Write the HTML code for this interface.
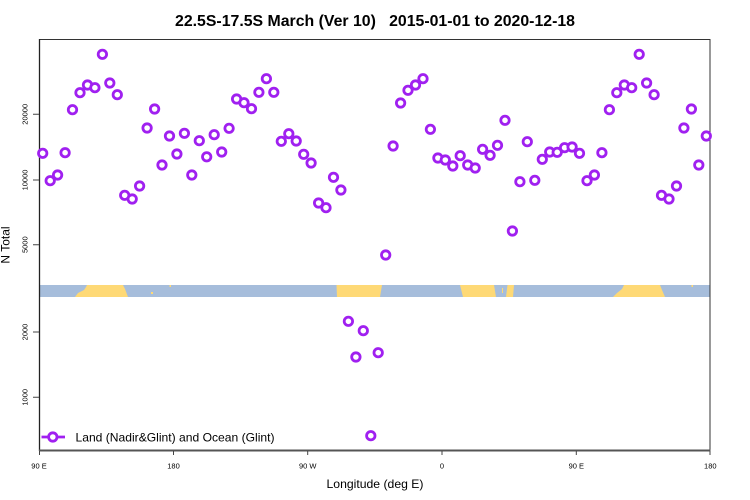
<!DOCTYPE html>
<html>
<head>
<meta charset="utf-8">
<style>
html,body{margin:0;padding:0;background:#fff;}
svg{display:block;}
text{font-family:"Liberation Sans",sans-serif;fill:#000;}
</style>
</head>
<body>
<svg width="750" height="500" viewBox="0 0 750 500" xmlns="http://www.w3.org/2000/svg">
<defs>
<marker id="m" markerUnits="userSpaceOnUse" markerWidth="14" markerHeight="14" refX="7" refY="7" viewBox="0 0 14 14" overflow="visible">
<circle cx="7" cy="7" r="4.2" fill="#fff" stroke="#A020F0" stroke-width="2.8"/>
</marker>
</defs>
<rect x="0" y="0" width="750" height="500" fill="#fff"/>
<text x="375" y="26" font-size="16" font-weight="bold" text-anchor="middle" xml:space="preserve" textLength="400" lengthAdjust="spacingAndGlyphs">22.5S-17.5S March (Ver 10)   2015-01-01 to 2020-12-18</text>

<rect x="39" y="285" width="671" height="12" fill="#A6BDDB"/>
<polygon points="87,285 123,285 125,289 128,297 75,297 78,293 84,290 86,287" fill="#FED976"/>
<polygon points="336.5,285 382,285 380,297 337,297" fill="#FED976"/>
<polygon points="460,285 494,285 496,297 463,297" fill="#FED976"/>
<polygon points="507.5,285 514,285 513,297 506,297" fill="#FED976"/>
<rect x="502" y="288" width="1" height="5" fill="#FED976"/>
<polygon points="624,285 660,285 662,290 665,297 613,297 617,293 622,289" fill="#FED976"/>
<rect x="169.5" y="285" width="1.5" height="2" fill="#FED976"/>
<rect x="151" y="292" width="2" height="2" fill="#FED976"/>
<rect x="691.5" y="285" width="1.5" height="2" fill="#FED976"/>

<path d="M39 39.5H710M710 39V451" stroke="#333" stroke-width="1" fill="none"/>
<path d="M39.5 39V451" stroke="#222" stroke-width="1.3" fill="none"/>
<path d="M39 450.5H710.5" stroke="#555" stroke-width="2" fill="none"/>

<path d="M33 114.3H39M33 180H39M33 244.7H39M33 332H39M33 397.3H39" stroke="#444" stroke-width="1" fill="none"/>
<g font-size="7.5" text-anchor="middle">
<text transform="translate(27.7,114.3) rotate(-90)">20000</text>
<text transform="translate(27.7,180) rotate(-90)">10000</text>
<text transform="translate(27.7,244.7) rotate(-90)">5000</text>
<text transform="translate(27.7,332) rotate(-90)">2000</text>
<text transform="translate(27.7,397.3) rotate(-90)">1000</text>
</g>
<text transform="translate(9.5,245) rotate(-90)" font-size="12" text-anchor="middle">N Total</text>

<path d="M39.5 451V455M173.5 451V455M307.7 451V455M442 451V455M576.3 451V455M710 451V455" stroke="#444" stroke-width="1" fill="none"/>
<g font-size="7.5" text-anchor="middle">
<text x="39" y="468.5">90 E</text>
<text x="173.5" y="468.5">180</text>
<text x="307.7" y="468.5">90 W</text>
<text x="442" y="468.5">0</text>
<text x="576.3" y="468.5">90 E</text>
<text x="710.3" y="468.5">180</text>
</g>
<text x="375" y="488" font-size="12" text-anchor="middle" textLength="97" lengthAdjust="spacingAndGlyphs">Longitude (deg E)</text>

<polyline fill="none" stroke="none" marker-start="url(#m)" marker-mid="url(#m)" marker-end="url(#m)" points="42.7,153.3 50.2,180.7 57.6,175 65.1,152.7 72.5,109.7 80.0,92.7 87.5,85 94.9,87.7 102.4,54.3 109.8,83 117.3,94.7 124.7,195.3 132.2,199 139.6,186 147.1,128 154.6,109 162.0,165 169.5,136 176.9,154 184.4,133.3 191.8,175 199.3,140.7 206.7,156.8 214.2,134.7 221.7,152 229.1,128.3 236.6,99 244.0,102.7 251.5,108.7 258.9,92.3 266.4,78.7 273.8,92.3 281.3,141.3 288.8,133.7 296.2,141 303.7,154.3 311.1,163 318.6,203 326.0,207.7 333.5,177.3 340.9,190 348.4,321.3 355.9,357 363.3,330.7 370.8,435.7 378.2,352.7 385.7,255 393.1,146 400.6,103 408.0,90.3 415.5,85 423.0,78.7 430.4,129.3 437.9,158 445.3,160 452.8,166 460.2,155.7 467.7,165 475.2,168 482.6,149.3 490.1,155.3 497.5,145.3 505.0,120.3 512.4,231 519.9,181.7 527.3,141.7 534.8,180.3 542.3,159.3 549.7,152 557.2,152.3 564.6,147.7 572.1,147 579.5,153.3 587.0,180.7 594.4,175 601.9,152.7 609.4,109.7 616.8,92.7 624.3,85 631.7,87.7 639.2,54.3 646.6,83 654.1,94.7 661.5,195.3 669.0,199 676.5,186 683.9,128 691.4,109 698.8,165 706.3,136"/>

<path d="M41.5 437H65" stroke="#A020F0" stroke-width="2.8" fill="none"/>
<circle cx="52.8" cy="437" r="4.2" fill="#fff" stroke="#A020F0" stroke-width="2.8"/>
<text x="75.5" y="441.5" font-size="12" textLength="199" lengthAdjust="spacingAndGlyphs">Land (Nadir&amp;Glint) and Ocean (Glint)</text>
</svg>
</body>
</html>
